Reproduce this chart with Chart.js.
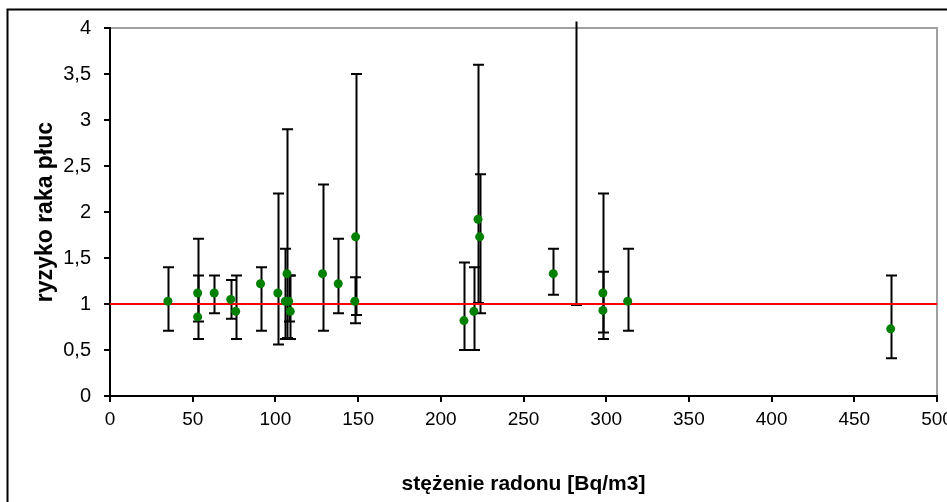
<!DOCTYPE html>
<html>
<head>
<meta charset="utf-8">
<script src="https://cdn.jsdelivr.net/npm/chart.js@4"></script>
<style>
  html, body { margin: 0; padding: 0; background: #fff; }
  #wrap { width: 947px; height: 502px; }
</style>
</head>
<body>
<div id="wrap"><canvas id="radonChart" width="947" height="502"></canvas></div>
<script>
// stężenie radonu [Bq/m3] i ryzyko raka płuc z przedziałami ufności
var radon = [35, 53, 53, 63, 73, 76, 91, 101.5, 107, 106, 108, 109, 128.5, 138, 148.5, 148, 214, 220, 222.5, 223.5, 268, 282, 298, 298, 313, 472];
var risk  = [1.03, 1.12, 0.86, 1.12, 1.05, 0.92, 1.22, 1.12, 1.33, 1.03, 1.03, 0.92, 1.33, 1.22, 1.73, 1.03, 0.82, 0.92, 1.92, 1.73, 1.33, null, 1.12, 0.93, 1.03, 0.73];
var lower = [0.71, 0.81, 0.62, 0.90, 0.84, 0.62, 0.71, 0.56, 0.63, 0.62, 0.81, 0.62, 0.71, 0.90, 0.88, 0.79, 0.50, 0.50, 1.01, 0.90, 1.10, 0.99, 0.62, 0.69, 0.71, 0.41];
var upper = [1.40, 1.71, 1.31, 1.31, 1.26, 1.31, 1.40, 2.20, 2.90, 1.60, 1.31, 1.31, 2.30, 1.71, 3.50, 1.29, 1.45, 1.40, 3.60, 2.41, 1.60, 4.07, 2.20, 1.35, 1.60, 1.31];
var refX = [0, 500];
var refY = [1, 1];

document.addEventListener('DOMContentLoaded', function() {
    var ctx = document.getElementById('radonChart').getContext('2d');
    var font = "'Liberation Sans', Arial, sans-serif";

    var points = radon.map(function(x, i) { return { x: x, y: risk[i] }; });
    var refLine = refX.map(function(x, i) { return { x: x, y: refY[i] }; });

    var frame = {
        id: 'frame',
        beforeDraw: function(chart) {
            var c = chart.ctx;
            c.save();
            c.strokeStyle = '#000';
            c.lineWidth = 2;
            c.beginPath();
            c.moveTo(7.5, 502);
            c.lineTo(7.5, 9.5);
            c.lineTo(947, 9.5);
            c.stroke();
            var a = chart.chartArea;
            c.strokeStyle = '#a0a0a0';
            c.beginPath();
            c.moveTo(a.left, a.top);
            c.lineTo(a.right, a.top);
            c.lineTo(a.right, a.bottom);
            c.stroke();
            c.restore();
        }
    };

    var errorBars = {
        id: 'errorBars',
        beforeDatasetsDraw: function(chart) {
            var c = chart.ctx;
            var xs = chart.scales.x, ys = chart.scales.y;
            c.save();
            c.strokeStyle = '#000';
            c.lineWidth = 2;
            for (var i = 0; i < radon.length; i++) {
                var px = Math.round(xs.getPixelForValue(radon[i])) + 0.5;
                var lo = ys.getPixelForValue(lower[i]);
                var hi = ys.getPixelForValue(upper[i]);
                c.beginPath();
                c.moveTo(px, lo);
                c.lineTo(px, hi);
                c.moveTo(px - 5.5, lo);
                c.lineTo(px + 5.5, lo);
                if (upper[i] <= 4) {
                    c.moveTo(px - 5.5, hi);
                    c.lineTo(px + 5.5, hi);
                }
                c.stroke();
            }
            c.restore();
        }
    };

    var radonChart = new Chart(ctx, {
        type: 'scatter',
        data: {
            datasets: [{
                label: 'ryzyko',
                data: points,
                backgroundColor: '#008000',
                borderWidth: 0,
                pointRadius: 4.5,
                pointHoverRadius: 4.5
            }, {
                type: 'line',
                label: 'poziom 1',
                data: refLine,
                borderColor: '#ff0000',
                borderWidth: 2,
                pointRadius: 0,
                fill: false
            }]
        },
        options: {
            responsive: false,
            animation: false,
            layout: { padding: { left: 32, top: 28, right: 10, bottom: 5 } },
            plugins: {
                legend: { display: false },
                tooltip: { enabled: false }
            },
            scales: {
                x: {
                    type: 'linear',
                    min: 0,
                    max: 500,
                    ticks: {
                        stepSize: 50,
                        color: '#000',
                        padding: 6,
                        maxRotation: 0,
                        font: { family: font, size: 19 }
                    },
                    grid: { drawOnChartArea: false, tickLength: 6, color: '#000', lineWidth: 2 },
                    border: { color: '#000', width: 2 },
                    title: {
                        display: true,
                        text: 'stężenie radonu [Bq/m3]',
                        color: '#000',
                        padding: 0,
                        font: { family: font, size: 21, weight: 'bold' }
                    },
                    afterFit: function(s) { s.height = 101; s.paddingLeft = 0; s.paddingRight = 0; }
                },
                y: {
                    min: 0,
                    max: 4,
                    ticks: {
                        stepSize: 0.5,
                        color: '#000',
                        padding: 13,
                        font: { family: font, size: 20 },
                        callback: function(v) { return String(v).replace('.', ','); }
                    },
                    grid: { drawOnChartArea: false, tickLength: 6, color: '#000', lineWidth: 2 },
                    border: { color: '#000', width: 2 },
                    title: {
                        display: true,
                        text: 'ryzyko raka płuc',
                        color: '#000',
                        padding: 0,
                        font: { family: font, size: 23, weight: 'bold' }
                    },
                    afterFit: function(s) { s.width = 78; s.paddingTop = 0; s.paddingBottom = 0; }
                }
            }
        },
        plugins: [frame, errorBars]
    });
});
</script>
</body>
</html>
